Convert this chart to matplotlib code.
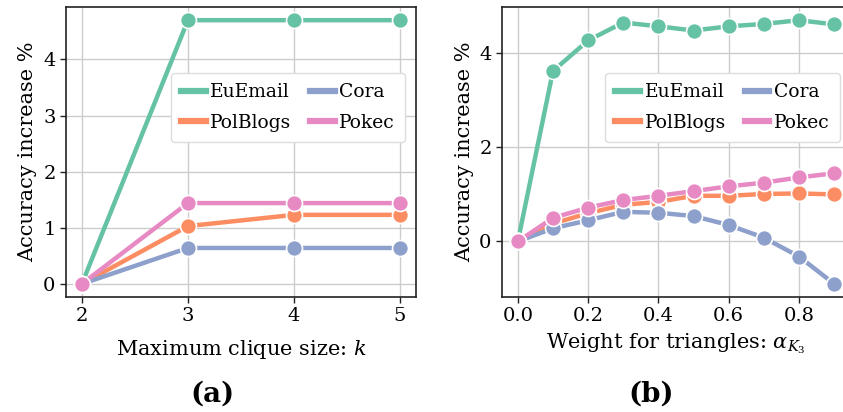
import matplotlib
matplotlib.use('Agg')
import matplotlib.pyplot as plt
from matplotlib.lines import Line2D

plt.rcParams['font.family'] = 'DejaVu Serif'
plt.rcParams['mathtext.fontset'] = 'dejavuserif'

# Data
names = ['EuEmail', 'PolBlogs', 'Cora', 'Pokec']
colors = ['#66c2a5', '#fc8d62', '#8da0cb', '#e78ac3']

k_vals = [2, 3, 4, 5]
acc_k = {
    'EuEmail': [0.0, 4.70, 4.70, 4.70],
    'PolBlogs': [0.0, 1.03, 1.23, 1.23],
    'Cora': [0.0, 0.64, 0.64, 0.64],
    'Pokec': [0.0, 1.44, 1.44, 1.44],
}

alpha_vals = [0.0, 0.1, 0.2, 0.3, 0.4, 0.5, 0.6, 0.7, 0.8, 0.9]
acc_alpha = {
    'EuEmail': [0.0, 3.62, 4.27, 4.65, 4.57, 4.48, 4.57, 4.62, 4.70, 4.61],
    'PolBlogs': [0.0, 0.38, 0.60, 0.78, 0.84, 0.97, 0.97, 1.01, 1.02, 1.00],
    'Cora': [0.0, 0.28, 0.45, 0.63, 0.61, 0.54, 0.35, 0.08, -0.32, -0.90],
    'Pokec': [0.0, 0.50, 0.72, 0.88, 0.97, 1.07, 1.17, 1.25, 1.36, 1.45],
}

fig = plt.figure(figsize=(8.43, 4.12), dpi=100)
ax1 = fig.add_axes([0.0783, 0.279, 0.415, 0.704])
ax2 = fig.add_axes([0.5955, 0.279, 0.4128, 0.704])


def draw(ax, x, data):
    for name, c in zip(names, colors):
        ax.plot(x, data[name], '-o', color=c, lw=3.2, ms=11.5,
                markeredgecolor='white', markeredgewidth=1.2)
    ax.grid(True, color='#cccccc', lw=1)
    ax.set_axisbelow(True)
    for s in ax.spines.values():
        s.set_color('#222222')
        s.set_linewidth(1.2)
    ax.tick_params(labelsize=14, length=4, width=1, color='#222222')
    ax.set_ylabel('Accuracy increase %', fontsize=15, labelpad=4)
    handles = [Line2D([], [], color=c, lw=4.5) for c in colors]
    ax.legend(handles, names, ncol=2, fontsize=13.5, loc='upper right',
              bbox_to_anchor=(0.97, 0.772), borderaxespad=0,
              handlelength=1.3, handletextpad=0.25, columnspacing=1.0,
              labelspacing=0.65, framealpha=1, edgecolor='#dddddd',
              borderpad=0.55)


draw(ax1, k_vals, acc_k)
ax1.set_xticks(k_vals)
ax1.set_yticks([0, 1, 2, 3, 4])
ax1.set_xlabel('Maximum clique size: $k$', fontsize=15, labelpad=9)

draw(ax2, alpha_vals, acc_alpha)
ax2.set_xticks([0.0, 0.2, 0.4, 0.6, 0.8])
ax2.set_yticks([0, 2, 4])
ax2.set_xlabel(r'Weight for triangles: $\alpha_{K_3}$', fontsize=15, labelpad=4)

fig.text(0.252, 0.025, '(a)', fontsize=20, fontweight='bold', ha='center')
fig.text(0.772, 0.025, '(b)', fontsize=20, fontweight='bold', ha='center')

fig.savefig('out.png', dpi=100)
